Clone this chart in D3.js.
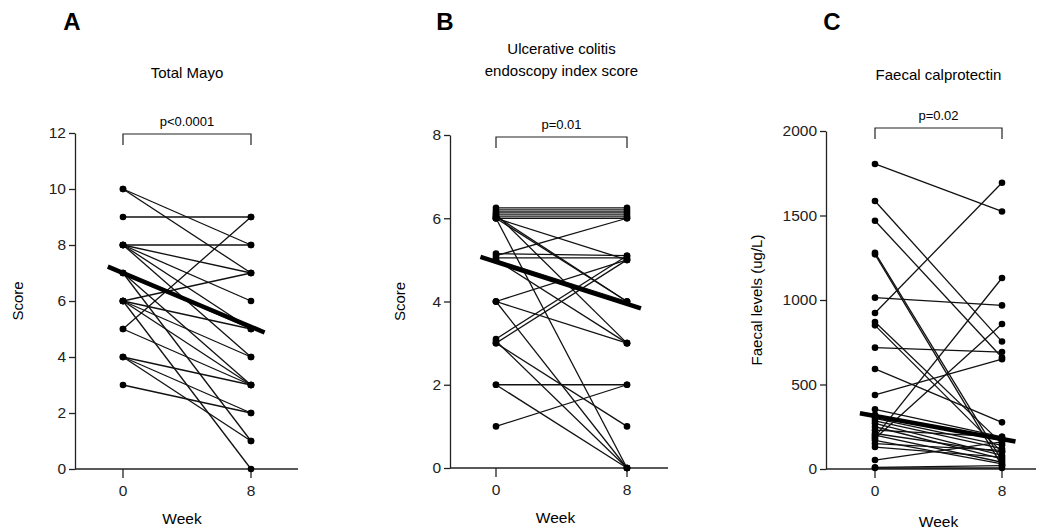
<!DOCTYPE html>
<html>
<head>
<meta charset="utf-8">
<script src="https://cdn.jsdelivr.net/npm/d3@7"></script>
<style>
  body { margin: 0; background: #fff; }
  svg { font-family: "Liberation Sans", Arial, sans-serif; }
</style>
</head>
<body>
<svg id="chart" width="1046" height="532"></svg>
<script>
// ---- data ----
var weeks = [0, 8];

// A: Total Mayo, paired week 0 / week 8
var mayoWeek0 = [10, 10, 9, 8, 8, 8, 8, 8, 7, 7, 7, 6, 6, 6, 6, 6, 5, 5, 4, 4, 4, 3];
var mayoWeek8 = [8, 7, 9, 8, 7, 6, 4, 5, 5, 1, 3, 7, 5, 3, 0, 4, 9, 3, 3, 2, 1, 2];
var mayoFit = [7.0, 5.08];
var mayoTicks = [0, 2, 4, 6, 8, 10, 12];

// B: UCEIS (small vertical offsets as plotted)
var uceisWeek0 = [6.25, 6.2, 6.15, 6.1, 6.05, 6.0, 6.0, 6.05, 6.0, 6.1, 6.0, 5.1, 5.15, 5.05, 5.0, 5.0, 4, 4, 4, 3.1, 3.0, 3.0, 3.05, 2, 2, 1];
var uceisWeek8 = [6.25, 6.2, 6.15, 6.1, 6.05, 6.0, 5.0, 4.0, 4.0, 3.0, 0, 6.0, 5.1, 5.05, 4.0, 3.0, 5, 3, 0, 5.1, 5.0, 1, 0, 2, 0, 2];
var uceisFit = [4.95, 3.94];
var uceisTicks = [0, 2, 4, 6, 8];

// C: Faecal calprotectin (ug/L)
var calproWeek0 = [1805, 1586, 1469, 1280, 1270, 1014, 923, 870, 850, 718, 592, 438, 353, 320, 300, 285, 270, 250, 230, 210, 200, 190, 180, 170, 150, 130, 53, 10, 6];
var calproWeek8 = [1524, 754, 660, 50, 20, 968, 1694, 150, 100, 692, 276, 650, 190, 170, 140, 120, 80, 60, 190, 100, 40, 1130, 858, 30, 110, 70, 160, 20, 6];
var calproFit = [314, 177];
var calproTicks = [0, 500, 1000, 1500, 2000];

var svg = d3.select('#chart');

function drawPanel(p) {
  var g = svg.append('g');
  var y = d3.scaleLinear().domain([0, p.yMax]).range([p.bottom, p.top]);
  var x = d3.scaleLinear().domain([0, 8]).range([p.x0, p.x8]);

  // panel letter + title
  g.append('text').attr('x', p.letterX).attr('y', 30)
    .attr('font-size', 24).attr('font-weight', 'bold').attr('text-anchor', 'middle')
    .text(p.letter);
  p.title.forEach(function (t, i) {
    g.append('text').attr('x', (p.x0 + p.x8) / 2).attr('y', p.titleY + i * 22)
      .attr('font-size', 15).attr('text-anchor', 'middle').text(t);
  });

  // y axis
  var yAxis = g.append('g').attr('transform', 'translate(' + p.axisX + ',0)')
    .call(d3.axisLeft(y).tickValues(p.ticks).tickFormat(d3.format('d'))
      .tickSize(6).tickPadding(3).tickSizeOuter(0));
  yAxis.selectAll('text').attr('font-size', 15.5).attr('fill', '#222');
  yAxis.selectAll('line, path').attr('stroke', '#222').attr('stroke-width', 1.3);

  // x axis
  g.append('line').attr('x1', p.axisX).attr('x2', p.axisEnd)
    .attr('y1', p.bottom).attr('y2', p.bottom).attr('stroke', '#222').attr('stroke-width', 1.3);
  weeks.forEach(function (w) {
    g.append('line').attr('x1', x(w)).attr('x2', x(w)).attr('y1', p.bottom).attr('y2', p.bottom + 9)
      .attr('stroke', '#222').attr('stroke-width', 1.3);
    g.append('text').attr('x', x(w)).attr('y', p.bottom + 27).attr('font-size', 15.5)
      .attr('text-anchor', 'middle').attr('fill', '#222').text(w);
  });
  g.append('text').attr('x', (p.x0 + p.x8) / 2 + p.weekDx).attr('y', p.bottom + p.weekDy)
    .attr('font-size', 15.5).attr('text-anchor', 'middle').text('Week');

  // y label
  g.append('text').attr('transform', 'translate(' + p.yLabelX + ',' + ((p.top + p.bottom) / 2) + ') rotate(-90)')
    .attr('font-size', 15).attr('text-anchor', 'middle').text(p.yLabel);

  // significance bracket
  g.append('path')
    .attr('d', 'M' + x(0) + ',' + (p.bracketY + 11) + 'V' + p.bracketY + 'H' + x(8) + 'V' + (p.bracketY + 11))
    .attr('fill', 'none').attr('stroke', '#222').attr('stroke-width', 1.2);
  g.append('text').attr('x', (x(0) + x(8)) / 2).attr('y', p.bracketY - 8)
    .attr('font-size', 13).attr('text-anchor', 'middle').text(p.pText);

  // paired lines
  var pairs = p.w0.map(function (v, i) { return [v, p.w8[i]]; });
  g.selectAll('line.pair').data(pairs).enter().append('line')
    .attr('class', 'pair')
    .attr('x1', x(0)).attr('x2', x(8))
    .attr('y1', function (d) { return y(d[0]); })
    .attr('y2', function (d) { return y(d[1]); })
    .attr('stroke', '#111').attr('stroke-width', 1.3);

  // dots
  [p.w0, p.w8].forEach(function (vals, k) {
    g.selectAll('circle.w' + k).data(vals).enter().append('circle')
      .attr('class', 'w' + k)
      .attr('cx', x(weeks[k])).attr('cy', function (d) { return y(d); })
      .attr('r', 3.3).attr('fill', '#000');
  });

  // mean trend line, extended a little beyond both weeks
  var slope = (p.fit[1] - p.fit[0]) / 8;
  var ext = [-0.95, 8.85];
  g.append('line')
    .attr('x1', x(ext[0])).attr('x2', x(ext[1]))
    .attr('y1', y(p.fit[0] + slope * ext[0]))
    .attr('y2', y(p.fit[0] + slope * ext[1]))
    .attr('stroke', '#000').attr('stroke-width', 4.5);
}

drawPanel({
  letter: 'A', letterX: 72, title: ['Total Mayo'], titleY: 78,
  yMax: 12, top: 133, bottom: 469, axisX: 75, axisEnd: 298, x0: 123, x8: 251,
  ticks: mayoTicks, yLabel: 'Score', yLabelX: 23, weekDx: -5, weekDy: 55,
  bracketY: 134, pText: 'p<0.0001',
  w0: mayoWeek0, w8: mayoWeek8, fit: mayoFit
});

drawPanel({
  letter: 'B', letterX: 445, title: ['Ulcerative colitis', 'endoscopy index score'], titleY: 54,
  yMax: 8, top: 135, bottom: 468, axisX: 450, axisEnd: 668, x0: 496, x8: 627,
  ticks: uceisTicks, yLabel: 'Score', yLabelX: 405, weekDx: -6, weekDy: 55,
  bracketY: 137, pText: 'p=0.01',
  w0: uceisWeek0, w8: uceisWeek8, fit: uceisFit
});

drawPanel({
  letter: 'C', letterX: 832, title: ['Faecal calprotectin'], titleY: 80,
  yMax: 2000, top: 131, bottom: 469, axisX: 826, axisEnd: 1036, x0: 875, x8: 1002,
  ticks: calproTicks, yLabel: 'Faecal levels (ug/L)', yLabelX: 762, weekDx: 0, weekDy: 58,
  bracketY: 128, pText: 'p=0.02',
  w0: calproWeek0, w8: calproWeek8, fit: calproFit
});
</script>
</body>
</html>
